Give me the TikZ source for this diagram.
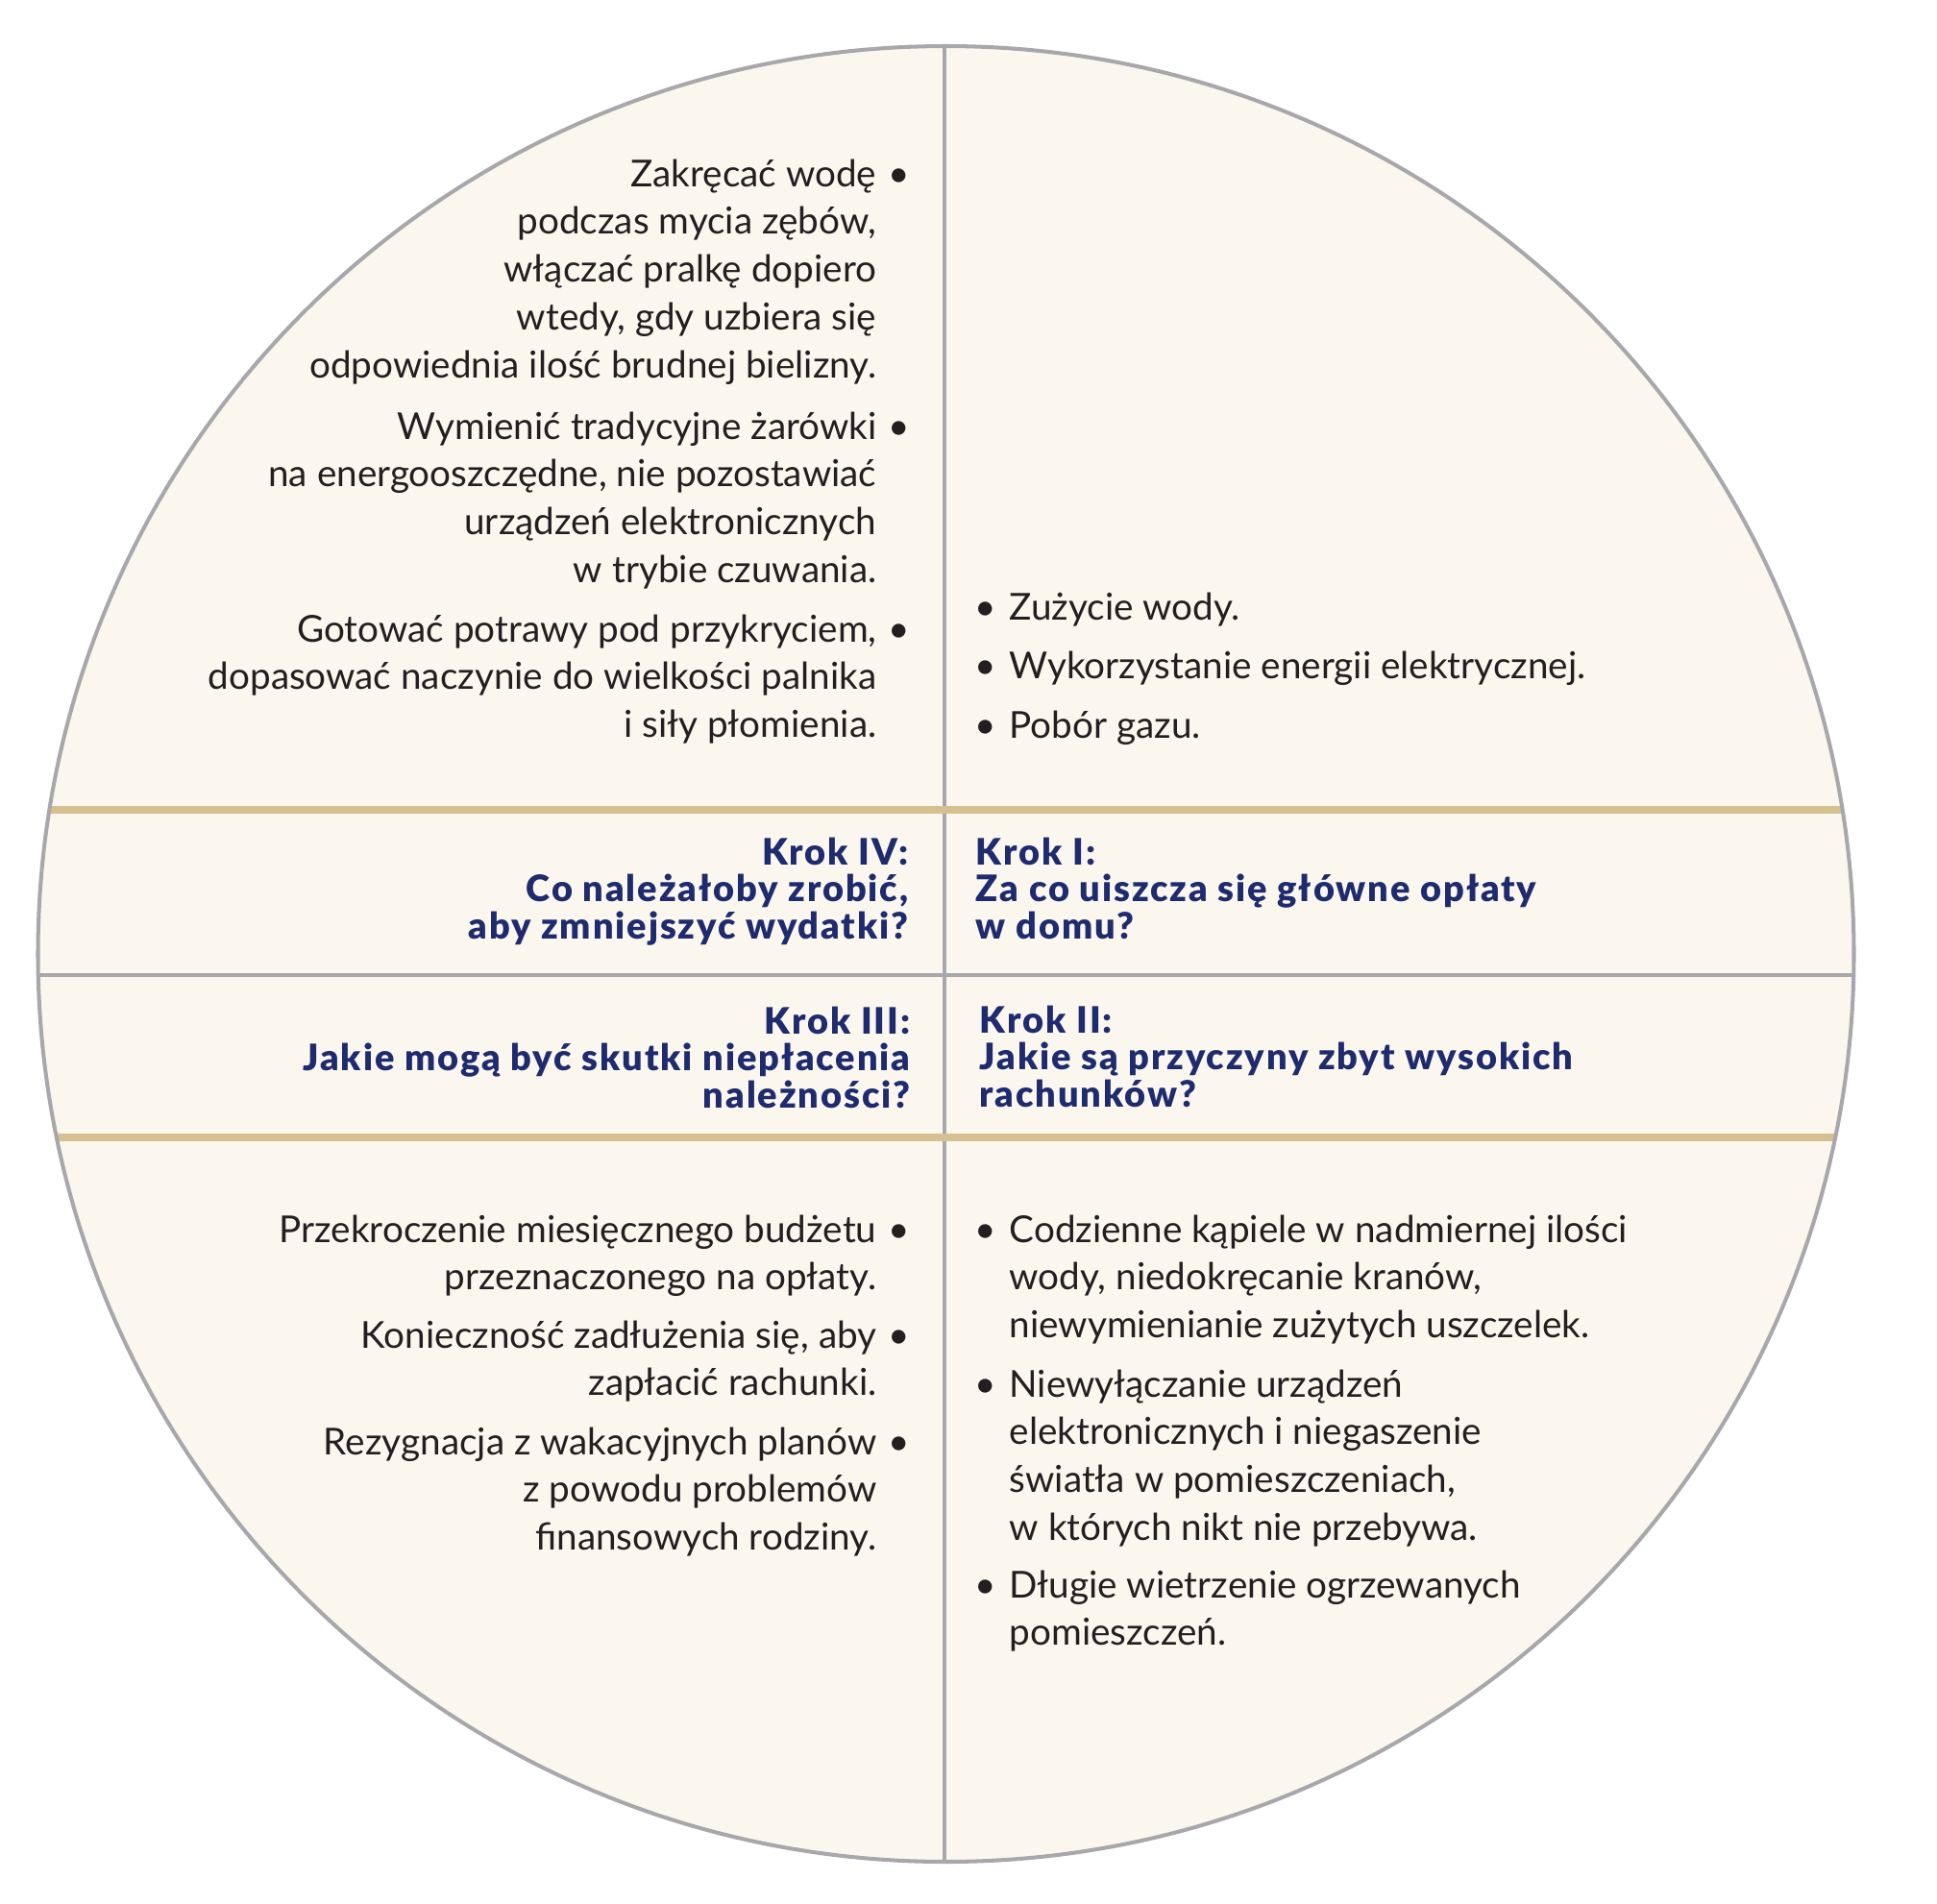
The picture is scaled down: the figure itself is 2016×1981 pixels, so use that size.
\documentclass[tikz,border=0pt]{standalone}
\usepackage{fontspec}
\setmainfont{Lato}
\newfontfamily\hdfont{Lato}[UprightFont=* Black, BoldFont=* Black, LetterSpace=5]
\definecolor{cream}{HTML}{FBF7EF}
\definecolor{rimgray}{HTML}{A8A8AC}
\definecolor{goldc}{HTML}{D6BF90}
\definecolor{navy}{HTML}{1E2B6E}
\definecolor{ink}{HTML}{231F20}
\newcommand{\rbul}{\rlap{\hspace{3.4pt}•}}
\newcommand{\lbul}{\leavevmode\llap{•\hspace{4.0pt}}}
\tikzset{
  body/.style={font=\fontsize{11}{14.2}\selectfont, text=ink, inner sep=0pt},
  head/.style={font=\hdfont\fontsize{10.8}{11}\selectfont, text=navy, inner sep=0pt},
  rim/.style={draw=rimgray, line width=1.15pt},
  grayline/.style={draw=rimgray, line width=1.15pt},
  goldline/.style={draw=goldc, line width=2.3pt}
}
\newcommand{\rpar}[1]{\parbox[t]{300pt}{\raggedleft #1}}
\newcommand{\lpar}[1]{\parbox[t]{300pt}{\raggedright #1}}
\begin{document}
\begin{tikzpicture}[x=0.1mm,y=-0.1mm]
\useasboundingbox (0,0) rectangle (2016,1981);
\coordinate (c) at (984.5,993);
\fill[cream] (c) circle[radius=94.5mm];
\coordinate (vt) at (983,0);
\coordinate (vb) at (983,1981);
\coordinate (g1l) at (0,843);
\coordinate (g1r) at (2016,843);
\coordinate (g2l) at (0,1184);
\coordinate (g2r) at (2016,1184);
\coordinate (ml) at (0,1015);
\coordinate (mr) at (2016,1015);
\begin{scope}
\clip (c) circle[radius=94.5mm];
\draw[grayline] (vt) -- (vb);
\draw[grayline] (ml) -- (mr);
\draw[goldline] (g1l) -- (g1r);
\draw[goldline] (g2l) -- (g2r);
\end{scope}
\draw[rim] (c) circle[radius=94.5mm];

% top-left
\node[body, anchor=base east] (tl1) at (913,194) {\rpar{Zakręcać wodę\rbul\\ podczas mycia zębów,\\ włączać pralkę dopiero\\ wtedy, gdy uzbiera się\\ odpowiednia ilość brudnej bielizny.}};
\node[body, anchor=base east] (tl2) at (913,457) {\rpar{Wymienić tradycyjne żarówki\rbul\\ na energooszczędne, nie pozostawiać\\ urządzeń elektronicznych\\ w trybie czuwania.}};
\node[body, anchor=base east] (tl3) at (913,668) {\rpar{Gotować potrawy pod przykryciem,\rbul\\ dopasować naczynie do wielkości palnika\\ i siły płomienia.}};

% top-right
\node[body, anchor=base west] (tr1) at (1050,645) {\lpar{\lbul Zużycie wody.}};
\node[body, anchor=base west] (tr2) at (1050,706) {\lpar{\lbul Wykorzystanie energii elektrycznej.}};
\node[body, anchor=base west] (tr3) at (1050,768) {\lpar{\lbul Pobór gazu.}};

% headers
\node[head, anchor=base east] (k4) at (946,900) {\rpar{Krok IV:\\ Co należałoby zrobić,\\ aby zmniejszyć wydatki?}};
\node[head, anchor=base west] (k1) at (1015,900) {\lpar{Krok I:\\ Za co uiszcza się główne opłaty\\ w domu?}};
\node[head, anchor=base east] (k3) at (948,1076) {\rpar{Krok III:\\ Jakie mogą być skutki niepłacenia\\ należności?}};
\node[head, anchor=base west] (k2) at (1019,1075) {\lpar{Krok II:\\ Jakie są przyczyny zbyt wysokich\\ rachunków?}};

% bottom-left
\node[body, anchor=base east] (bl1) at (913,1293) {\rpar{Przekroczenie miesięcznego budżetu\rbul\\ przeznaczonego na opłaty.}};
\node[body, anchor=base east] (bl2) at (913,1403) {\rpar{Konieczność zadłużenia się, aby\rbul\\ zapłacić rachunki.}};
\node[body, anchor=base east] (bl3) at (913,1514) {\rpar{Rezygnacja z wakacyjnych planów\rbul\\ z powodu problemów\\ finansowych rodziny.}};

% bottom-right
\node[body, anchor=base west] (br1) at (1050,1293) {\lpar{\lbul Codzienne kąpiele w nadmiernej ilości\\ wody, niedokręcanie kranów,\\ niewymienianie zużytych uszczelek.}};
\node[body, anchor=base west] (br2) at (1050,1454) {\lpar{\lbul Niewyłączanie urządzeń\\ elektronicznych i niegaszenie\\ światła w pomieszczeniach,\\ w których nikt nie przebywa.}};
\node[body, anchor=base west] (br3) at (1050,1663) {\lpar{\lbul Długie wietrzenie ogrzewanych\\ pomieszczeń.}};
\end{tikzpicture}
\end{document}
